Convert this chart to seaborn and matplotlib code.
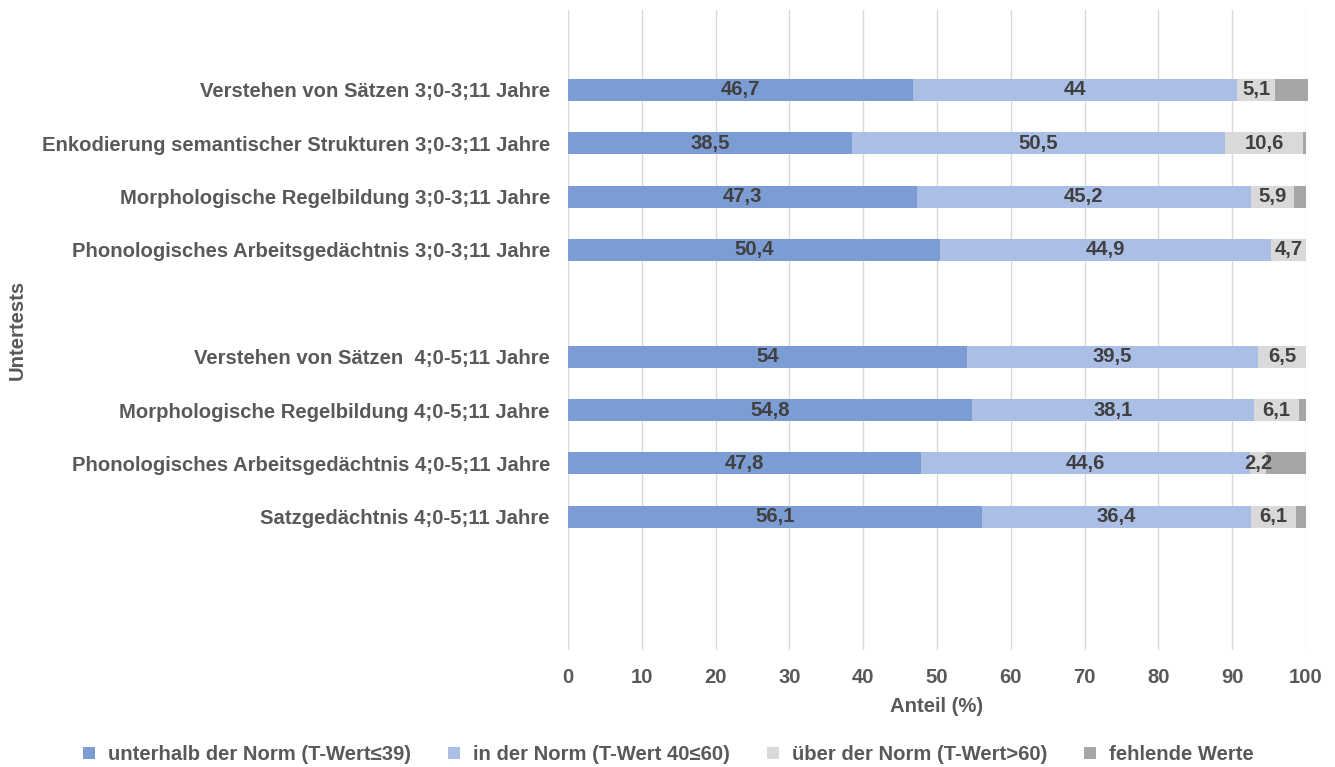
import matplotlib
matplotlib.use("Agg")
import matplotlib.pyplot as plt
from matplotlib.lines import Line2D
import numpy as np
import pandas as pd
import seaborn as sns

# Subtests (top to bottom) and shares in percent
tests = [
    "Verstehen von Sätzen 3;0-3;11 Jahre",
    "Enkodierung semantischer Strukturen 3;0-3;11 Jahre",
    "Morphologische Regelbildung 3;0-3;11 Jahre",
    "Phonologisches Arbeitsgedächtnis 3;0-3;11 Jahre",
    "Verstehen von Sätzen  4;0-5;11 Jahre",
    "Morphologische Regelbildung 4;0-5;11 Jahre",
    "Phonologisches Arbeitsgedächtnis 4;0-5;11 Jahre",
    "Satzgedächtnis 4;0-5;11 Jahre",
]
below = [46.7, 38.5, 47.3, 50.4, 54.0, 54.8, 47.8, 56.1]
within = [44.0, 50.5, 45.2, 44.9, 39.5, 38.1, 44.6, 36.4]
above = [5.1, 10.6, 5.9, 4.7, 6.5, 6.1, 2.2, 6.1]
missing = [4.5, 0.4, 1.6, 0.0, 0.0, 1.0, 5.4, 1.4]

series_names = [
    "unterhalb der Norm (T-Wert≤39)",
    "in der Norm (T-Wert 40≤60)",
    "über der Norm (T-Wert>60)",
    "fehlende Werte",
]
colors = ["#7C9DD4", "#AABEE6", "#D9D9D9", "#A6A6A6"]

# category slots, with blank rows separating the age groups
order = [" "] + tests[:4] + ["  "] + tests[4:] + ["   ", "    "]

sns.set_theme(style="white")
plt.rcParams["font.family"] = ["Liberation Sans", "DejaVu Sans"]
plt.rcParams["font.weight"] = "bold"

FS = 14.6

df = pd.DataFrame({"test": tests, "below": below, "within": within,
                   "above": above, "missing": missing})
cols = ["below", "within", "above", "missing"]
cum = df[cols].cumsum(axis=1)

fig = plt.figure(figsize=(13.35, 7.67), dpi=100)
ax = fig.add_axes([0.4255, 0.1525, 0.5528, 0.8345])

# stacked bars: draw cumulative totals from the widest down
for col, color in reversed(list(zip(cols, colors))):
    sns.barplot(x=cum[col], y=df["test"], order=order, orient="h",
                color=color, saturation=1, width=0.41, errorbar=None, ax=ax)
for p in ax.patches:
    p.set_clip_on(False)
    p.set_linewidth(0)

# value labels centred on each visible segment
for i, row in df.iterrows():
    y = order.index(row["test"])
    left = 0.0
    for col in cols:
        v = row[col]
        if col != "missing":
            txt = f"{v:g}".replace(".", ",")
            ax.text(left + v / 2, y, txt, ha="center", va="center",
                    fontsize=FS, fontweight="bold", color="#404040")
        left += v

ax.set_xlim(0, 100)
ax.set_xticks(np.arange(0, 101, 10))
ax.grid(axis="x", color="#D9D9D9", linewidth=1.0)
ax.grid(axis="y", visible=False)
ax.set_axisbelow(True)
for s in ax.spines.values():
    s.set_visible(False)
ax.tick_params(axis="x", length=0, pad=13, labelsize=FS, labelcolor="#595959")
ax.tick_params(axis="y", length=0, pad=13, labelsize=FS, labelcolor="#595959")
for lab in ax.get_xticklabels() + ax.get_yticklabels():
    lab.set_fontweight("bold")

ax.set_xlabel("Anteil (%)", fontsize=FS, fontweight="bold", color="#595959",
              labelpad=7)
ax.set_ylabel("Untertests", fontsize=FS, fontweight="bold", color="#595959")
ax.yaxis.set_label_coords(-0.733, 0.5)

handles = [Line2D([], [], marker="s", linestyle="none", markersize=8,
                  markerfacecolor=c, markeredgewidth=0) for c in colors]
fig.legend(handles, series_names, loc="lower center", bbox_to_anchor=(0.5, -0.02),
           ncol=4, frameon=False, handlelength=0.8, handletextpad=0.55,
           columnspacing=1.7, prop={"size": FS, "weight": "bold"},
           labelcolor="#595959")

fig.savefig("out.png", dpi=100)
